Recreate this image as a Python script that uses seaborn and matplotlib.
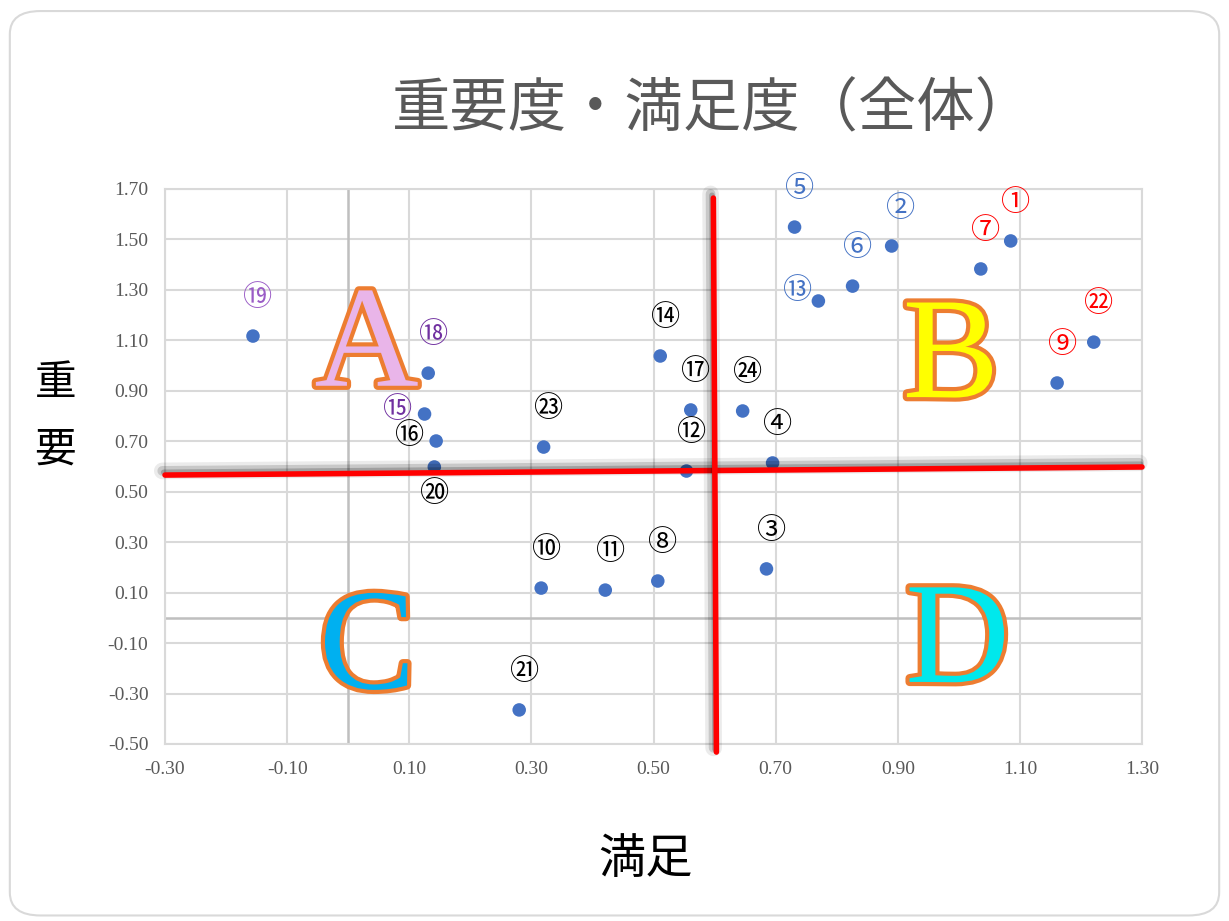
import numpy as np
import matplotlib
matplotlib.use('Agg')
import matplotlib.pyplot as plt
import matplotlib.patheffects as pe
from matplotlib.patches import FancyBboxPatch
import seaborn as sns
import pandas as pd

# item numbers and (satisfaction, importance) scores
item_no = [1, 2, 3, 4, 5, 6, 7, 8, 9, 10, 11, 12,
           13, 14, 15, 16, 17, 18, 19, 20, 21, 22, 23, 24]
satisfaction = [1.085, 0.890, 0.685, 0.695, 0.731, 0.826, 1.036, 0.507, 1.161, 0.316, 0.421, 0.554,
                0.770, 0.511, 0.125, 0.144, 0.561, 0.131, -0.156, 0.141, 0.280, 1.221, 0.320, 0.646]
importance = [1.494, 1.474, 0.194, 0.614, 1.549, 1.315, 1.383, 0.146, 0.931, 0.118, 0.110, 0.582,
              1.256, 1.038, 0.808, 0.701, 0.824, 0.970, 1.117, 0.598, -0.365, 1.093, 0.677, 0.820]
label_group = ['red', 'blue', 'black', 'black', 'blue', 'blue', 'red', 'black', 'red', 'black', 'black', 'black',
               'blue', 'black', 'purple', 'black', 'black', 'purple', 'lilac', 'black', 'black', 'red', 'black', 'black']

# quadrant divider lines (hand drawn in the original)
h_line_x = [-0.30, 1.30]
h_line_y = [0.566, 0.598]
v_line_x = [0.598, 0.603]
v_line_y = [1.664, -0.532]

# quadrant letters (baseline positions)
quad_letters = ['A', 'B', 'C', 'D']
quad_x = [0.030, 0.987, 0.031, 0.998]
quad_y = [0.920, 0.875, -0.280, -0.254]
quad_fill = ['#E9B5E9', '#FFFF00', '#00B0F0', '#00E8EC']

x_ticks = [-0.30, -0.10, 0.10, 0.30, 0.50, 0.70, 0.90, 1.10, 1.30]
y_ticks = [-0.50, -0.30, -0.10, 0.10, 0.30, 0.50, 0.70, 0.90, 1.10, 1.30, 1.50, 1.70]

# label offsets in pixels (relative to each point)
label_offset = {15: (-27, 4), 16: (-27, 5), 20: (0, -27), 13: (-21, 10), 2: (9, 37)}
group_color = {'red': '#FF0000', 'blue': '#4472C4', 'black': '#000000',
               'purple': '#7030A0', 'lilac': '#9A5CC6'}


def circled(n):
    if n <= 20:
        return chr(0x2460 + n - 1)
    return chr(0x3251 + n - 21)


df = pd.DataFrame({'no': item_no, 'sat': satisfaction, 'imp': importance})

sns.set_theme(style='white')
plt.rcParams['font.family'] = ['Noto Sans CJK JP', 'DejaVu Sans']

fig = plt.figure(figsize=(12.29, 9.21), dpi=100)
frame = FancyBboxPatch((0.008, 0.006), 0.984, 0.982,
                       boxstyle='round,pad=0,rounding_size=0.025',
                       transform=fig.transFigure, facecolor='white',
                       edgecolor='#D9D9D9', linewidth=1.5, zorder=-10)
fig.patches.append(frame)
ax = fig.add_axes([0.1343, 0.1922, 0.7949, 0.6026])
ax.set_facecolor('none')

sns.scatterplot(data=df, x='sat', y='imp', ax=ax, color='#4472C4', s=95,
                edgecolor='none', zorder=3, legend=False)

ax.set_xlim(-0.30, 1.30)
ax.set_ylim(-0.50, 1.70)
ax.set_xticks(x_ticks)
ax.set_yticks(y_ticks)
ax.set_xticklabels(['%.2f' % v for v in x_ticks], family='Liberation Serif', fontsize=14, color='#595959')
ax.set_yticklabels(['%.2f' % v for v in y_ticks], family='Liberation Serif', fontsize=14, color='#595959')
ax.tick_params(length=0, pad=12)
ax.grid(True, color='#D9D9D9', linewidth=1.5, zorder=0)
ax.axvline(0, color='#BFBFBF', linewidth=1.8, zorder=1)
ax.axhline(0, color='#BFBFBF', linewidth=1.8, zorder=1)
for s in ax.spines.values():
    s.set_color('#D9D9D9')
    s.set_linewidth(1.5)
ax.set_xlabel('')
ax.set_ylabel('')

# circled labels
for n, x, y, g in zip(item_no, satisfaction, importance, label_group):
    off = label_offset.get(n, (5, 38))
    ax.annotate(circled(n), (x, y), xytext=off, textcoords='offset pixels',
                ha='center', va='center', fontsize=21, color=group_color[g],
                family=['Noto Sans CJK JP', 'DejaVu Sans'], zorder=4)

# quadrant letters
for t, x, y, c in zip(quad_letters, quad_x, quad_y, quad_fill):
    ax.text(x, y, t, ha='center', va='baseline', fontsize=104, family='Liberation Serif',
            color=c, zorder=5,
            path_effects=[pe.Stroke(linewidth=6, foreground='#ED7D31'), pe.Normal()])

# red divider lines with soft shadow
shadow = [pe.SimpleLineShadow(offset=(-2, 3), shadow_color='black', alpha=0.08, linewidth=12),
          pe.SimpleLineShadow(offset=(-2, 3), shadow_color='black', alpha=0.15, linewidth=7),
          pe.SimpleLineShadow(offset=(-1, 2), shadow_color='black', alpha=0.2, linewidth=4),
          pe.Normal()]
ax.plot(h_line_x, h_line_y, color='#FF0000', linewidth=4, clip_on=False, zorder=6,
        path_effects=shadow)
ax.plot(v_line_x, v_line_y, color='#FF0000', linewidth=4, clip_on=False, zorder=6,
        path_effects=shadow)

fig.text(0.58, 0.881, '重要度・満足度（全体）', ha='center', va='center',
         fontsize=42, color='#595959')
fig.text(0.525, 0.066, '満足', ha='center', va='center', fontsize=34, color='black')
fig.text(0.045, 0.547, '重\n要', ha='center', va='center', fontsize=30, color='black',
         linespacing=1.8)

plt.savefig('out.png', dpi=100)
